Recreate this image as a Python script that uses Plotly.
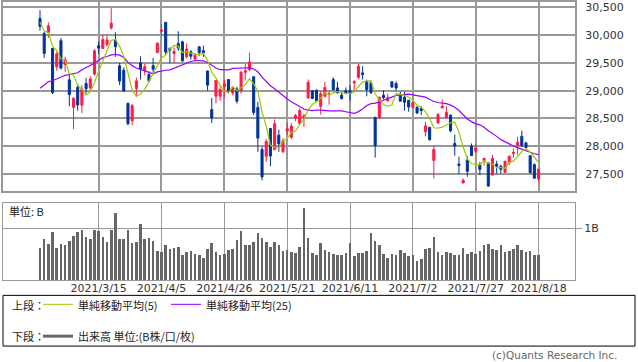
import numpy as np
import plotly.graph_objects as go

dates = [
    "2021/2/22", "2021/2/24", "2021/2/25", "2021/2/26",
    "2021/3/1", "2021/3/2", "2021/3/3", "2021/3/4", "2021/3/5",
    "2021/3/8", "2021/3/9", "2021/3/10", "2021/3/11", "2021/3/12",
    "2021/3/15", "2021/3/16", "2021/3/17", "2021/3/18", "2021/3/19",
    "2021/3/22", "2021/3/23", "2021/3/24", "2021/3/25", "2021/3/26",
    "2021/3/29", "2021/3/30", "2021/3/31", "2021/4/1", "2021/4/2",
    "2021/4/5", "2021/4/6", "2021/4/7", "2021/4/8", "2021/4/9",
    "2021/4/12", "2021/4/13", "2021/4/14", "2021/4/15", "2021/4/16",
    "2021/4/19", "2021/4/20", "2021/4/21", "2021/4/22", "2021/4/23",
    "2021/4/26", "2021/4/27", "2021/4/28", "2021/4/30",
    "2021/5/6", "2021/5/7",
    "2021/5/10", "2021/5/11", "2021/5/12", "2021/5/13", "2021/5/14",
    "2021/5/17", "2021/5/18", "2021/5/19", "2021/5/20", "2021/5/21",
    "2021/5/24", "2021/5/25", "2021/5/26", "2021/5/27", "2021/5/28",
    "2021/5/31", "2021/6/1", "2021/6/2", "2021/6/3", "2021/6/4",
    "2021/6/7", "2021/6/8", "2021/6/9", "2021/6/10", "2021/6/11",
    "2021/6/14", "2021/6/15", "2021/6/16", "2021/6/17", "2021/6/18",
    "2021/6/21", "2021/6/22", "2021/6/23", "2021/6/24", "2021/6/25",
    "2021/6/28", "2021/6/29", "2021/6/30", "2021/7/1", "2021/7/2",
    "2021/7/5", "2021/7/6", "2021/7/7", "2021/7/8", "2021/7/9",
    "2021/7/12", "2021/7/13", "2021/7/14", "2021/7/15", "2021/7/16",
    "2021/7/19", "2021/7/20", "2021/7/21",
    "2021/7/26", "2021/7/27", "2021/7/28", "2021/7/29", "2021/7/30",
    "2021/8/2", "2021/8/3", "2021/8/4", "2021/8/5", "2021/8/6",
    "2021/8/10", "2021/8/11", "2021/8/12", "2021/8/13",
    "2021/8/16", "2021/8/17", "2021/8/18",
]

opens = [
    30300, 30030, 30050, 29760, 29430, 29900, 29470, 29195, 28700, 29060,
    28740, 29130, 29050, 29300, 29810, 29760, 29830, 30130, 29914, 29450,
    29370, 28770, 28460, 29040, 29500, 29360, 29290, 29450, 29690, 30070,
    30230, 29760, 29670, 29850, 29880, 29610, 29700, 29570, 29790, 29720,
    29355, 28660, 28900, 28900, 29070, 29200, 28960, 29030, 29000, 29330,
    29380, 29250, 28700, 27940, 27820, 28320, 27940, 28200, 27900, 28270,
    28160, 28500, 28410, 28510, 28870, 29000, 29010, 28720, 28900, 28930,
    29200, 29050, 28920, 29000, 29000, 29140, 29240, 29320, 29170, 29140,
    28520, 28510, 28920, 28820, 29160, 29130, 28920, 28880, 28830, 28700,
    28700, 28680, 28260, 28340, 27745, 28420, 28690, 28520, 28560, 28050,
    27680, 27340, 27750, 28000, 27910, 27670, 27740, 27700, 27480, 27680,
    27640, 27530, 27700, 27870, 28020, 28180, 28060, 27830, 27670, 27410,
]
highs = [
    30450, 30060, 30230, 29770, 29700, 29950, 29610, 29300, 28880, 29120,
    29100, 29230, 29260, 29750, 29890, 30010, 30000, 30485, 30050, 29500,
    29420, 28790, 28760, 29240, 29620, 29490, 29350, 29590, 29870, 30200,
    30240, 29780, 29780, 30070, 29900, 29850, 29730, 29680, 29800, 29810,
    29360, 28870, 29190, 29070, 29190, 29210, 29070, 29070, 29360, 29480,
    29685, 29260, 28800, 27990, 28130, 28330, 28480, 28300, 28150, 28420,
    28420, 28580, 28680, 28590, 29200, 29010, 29020, 28990, 29160, 29000,
    29240, 29160, 28960, 29060, 29100, 29190, 29480, 29440, 29200, 29180,
    28530, 28890, 29010, 28950, 29170, 29170, 28980, 28980, 28830, 28800,
    28720, 28720, 28440, 28350, 28010, 28600, 28840, 28720, 28570, 28210,
    27810, 27420, 27820, 28050, 28050, 27720, 27790, 27710, 27840, 27740,
    27670, 27740, 27830, 27960, 28170, 28280, 28080, 27840, 27690, 27600,
]
lows = [
    30080, 29590, 29950, 28940, 29360, 29380, 29340, 28720, 28310, 28640,
    28600, 28950, 29020, 29270, 29670, 29750, 29800, 30100, 29610, 29100,
    28980, 28380, 28380, 28900, 29200, 29280, 29150, 29300, 29670, 29990,
    29650, 29500, 29490, 29720, 29520, 29580, 29560, 29540, 29620, 29610,
    29000, 28420, 28770, 28820, 28870, 28950, 28920, 28770, 28950, 29180,
    29350, 28560, 27900, 27385, 27720, 27640, 27930, 27900, 27880, 28200,
    28130, 28450, 28390, 28350, 28860, 28850, 28800, 28570, 28880, 28750,
    29000, 28950, 28840, 28950, 28820, 28990, 29210, 29200, 28900, 28940,
    27795, 28500, 28840, 28800, 29050, 29000, 28800, 28640, 28620, 28680,
    28580, 28560, 28180, 28100, 27420, 28400, 28680, 28490, 28250, 27830,
    27500, 27330, 27450, 27830, 27880, 27480, 27650, 27270, 27480, 27510,
    27510, 27530, 27660, 27790, 27850, 27990, 27960, 27510, 27420, 27350,
]
closes = [
    30156, 29671, 30168, 28966, 29663, 29408, 29559, 28930, 28864, 28743,
    29028, 29036, 29211, 29717, 29766, 29921, 29914, 30216, 29792, 29174,
    28995, 28405, 28729, 29176, 29384, 29432, 29178, 29388, 29854, 30089,
    29696, 29730, 29708, 29768, 29538, 29751, 29620, 29642, 29683, 29685,
    29100, 28508, 29188, 29020, 29126, 28991, 29053, 28812, 29331, 29357,
    29518, 28608, 28147, 27448, 28084, 27824, 28406, 28044, 28098, 28317,
    28364, 28553, 28642, 28549, 29149, 28860, 28814, 28946, 29058, 28941,
    29019, 28963, 28860, 28958, 28948, 29161, 29441, 29291, 29018, 28964,
    28010, 28884, 28874, 28875, 29066, 29048, 28812, 28791, 28707, 28783,
    28598, 28643, 28366, 28118, 27940, 28569, 28718, 28608, 28279, 28003,
    27652, 27388, 27548, 27833, 27970, 27581, 27782, 27283, 27781, 27641,
    27584, 27728, 27820, 27888, 28070, 28015, 27977, 27523, 27424, 27585,
]
# closes of the 24 sessions before the first shown day (for the moving averages)
prior_closes = [
    28242, 28633, 28523, 28756, 28631, 28822, 28546, 28635, 28197, 27663,
    28091, 28362, 28646, 28341, 28779, 29388, 29505, 29562, 29520, 30084,
    30467, 30292, 30236, 30017,
]
volumes_b = [
    0.63, 0.80, 0.70, 0.93, 0.63, 0.70, 0.68, 0.76, 0.85, 0.93,
    0.97, 0.84, 0.80, 0.97, 0.95, 0.84, 0.74, 0.97, 1.29, 0.80,
    0.80, 0.97, 0.72, 0.74, 1.08, 0.80, 0.82, 0.76, 0.57, 0.55,
    0.67, 0.61, 0.63, 0.65, 0.49, 0.55, 0.57, 0.51, 0.49, 0.44,
    0.61, 0.72, 0.55, 0.49, 0.51, 0.59, 0.61, 0.78, 0.95, 0.68,
    0.67, 0.74, 0.91, 0.82, 0.74, 0.65, 0.74, 0.68, 0.57, 0.59,
    0.55, 0.53, 0.65, 1.39, 0.82, 0.53, 0.48, 0.72, 0.59, 0.55,
    0.51, 0.49, 0.49, 0.53, 0.72, 0.46, 0.53, 0.53, 0.57, 0.91,
    0.76, 0.68, 0.51, 0.44, 0.51, 0.48, 0.59, 0.53, 0.46, 0.48,
    0.38, 0.42, 0.61, 0.63, 0.84, 0.55, 0.49, 0.55, 0.53, 0.49,
    0.49, 0.63, 0.51, 0.55, 0.51, 0.57, 0.68, 0.70, 0.61, 0.59,
    0.68, 0.55, 0.57, 0.61, 0.67, 0.59, 0.55, 0.57, 0.49, 0.49,
]
tick_dates = ["2021/3/15", "2021/4/5", "2021/4/26", "2021/5/21",
              "2021/6/11", "2021/7/2", "2021/7/27", "2021/8/18"]
price_ticks = [27500, 28000, 28500, 29000, 29500, 30000, 30500]

RED = "#ff1a48"
BLUE = "#003399"
GREEN = "#99cc00"
PURPLE = "#9900ff"
GRID = "#999999"

x = list(range(len(dates)))
tickvals = [dates.index(d) for d in tick_dates]

allc = np.array(prior_closes + closes, dtype=float)


def sma(a, n):
    return np.convolve(a, np.ones(n) / n, mode="valid")


ma5 = sma(allc, 5)[-len(closes):]
ma25 = sma(allc, 25)[-len(closes):]

W, H = 638, 362


def px(v):
    return v / W


def py(v):
    return 1 - v / H


fig = go.Figure()
fig.add_trace(go.Candlestick(
    x=x, open=opens, high=highs, low=lows, close=closes,
    increasing=dict(line=dict(color=RED, width=1), fillcolor=RED),
    decreasing=dict(line=dict(color=BLUE, width=1), fillcolor=BLUE),
    whiskerwidth=0, xaxis="x", yaxis="y", showlegend=False,
))
fig.add_trace(go.Scatter(x=x, y=ma25, mode="lines", line=dict(color=PURPLE, width=1.2),
                         xaxis="x", yaxis="y", showlegend=False))
fig.add_trace(go.Scatter(x=x, y=ma5, mode="lines", line=dict(color=GREEN, width=1.2),
                         xaxis="x", yaxis="y", showlegend=False))
fig.add_trace(go.Bar(x=x, y=volumes_b, marker=dict(color="#666666", line=dict(width=0)),
                     width=0.62, xaxis="x2", yaxis="y2", showlegend=False))

xrange = [-8.83, 127.7]
font_main = "DejaVu Sans, Noto Sans CJK JP, sans-serif"

fig.update_layout(
    width=W, height=H,
    margin=dict(l=0, r=0, t=0, b=0),
    paper_bgcolor="white", plot_bgcolor="white",
    font=dict(family=font_main, size=11, color="#333333"),
    xaxis=dict(domain=[px(3), px(575)], range=xrange, anchor="y",
               tickvals=tickvals, showticklabels=False, ticks="",
               showgrid=True, gridcolor=GRID, gridwidth=2, zeroline=False,
               showline=True, mirror=True, linecolor=GRID, linewidth=2,
               rangeslider=dict(visible=False), fixedrange=True),
    yaxis=dict(domain=[py(190), 1], range=[27195, 30597], side="right",
               tickvals=price_ticks, ticktext=[f"{v:,}" for v in price_ticks],
               ticks="", ticklabelstandoff=6,
               showgrid=True, gridcolor=GRID, gridwidth=2, zeroline=False,
               showline=True, mirror=True, linecolor=GRID, linewidth=2,
               tickfont=dict(size=11, color="#333333")),
    xaxis2=dict(domain=[px(3), px(575)], range=xrange, anchor="y2",
                tickvals=tickvals, ticktext=tick_dates, ticks="",
                ticklabelstandoff=-3,
                showgrid=True, gridcolor=GRID, gridwidth=1, zeroline=False,
                showline=True, mirror=True, linecolor=GRID, linewidth=1,
                tickfont=dict(size=11, color="#333333"), tickangle=0),
    yaxis2=dict(domain=[py(280), py(202)], range=[0, 1.48], side="right",
                tickvals=[1], ticktext=["1B"], ticks="outside", ticklen=6,
                tickcolor=GRID, tickwidth=1,
                showgrid=True, gridcolor=GRID, gridwidth=1, zeroline=False,
                showline=True, mirror=True, linecolor=GRID, linewidth=1,
                tickfont=dict(size=11, color="#333333")),
    bargap=0,
)

shapes = [
    dict(type="rect", xref="paper", yref="paper", x0=px(3), x1=px(635),
         y0=py(346), y1=py(295), line=dict(color="black", width=1)),
    dict(type="line", xref="paper", yref="paper", x0=px(43), x1=px(73),
         y0=py(304), y1=py(304), line=dict(color=GREEN, width=1)),
    dict(type="line", xref="paper", yref="paper", x0=px(171), x1=px(201),
         y0=py(304), y1=py(304), line=dict(color=PURPLE, width=1)),
    dict(type="line", xref="paper", yref="paper", x0=px(43), x1=px(73),
         y0=py(336), y1=py(336), line=dict(color="#666666", width=3)),
]
fig.update_layout(shapes=shapes)

jp = "Noto Sans CJK JP, DejaVu Sans, sans-serif"


def note(text, x0, y0, anchor="left", size=11, color="#222222", family=jp):
    fig.add_annotation(text=text, xref="paper", yref="paper", x=px(x0), y=py(y0),
                       xanchor=anchor, yanchor="middle", showarrow=False,
                       borderpad=0, font=dict(family=family, size=size, color=color))


note("単位: B", 8, 210)
note("上段：", 11, 305)
note("単純移動平均(5)", 77, 305)
note("単純移動平均(25)", 205, 305)
note("下段：", 11, 336)
note("出来高 単位:(B株/口/枚)", 77, 336)
note("(c)Quants Research Inc.", 618, 355, anchor="right", size=10.5, color="#666666",
     family=font_main)

fig.write_html("out.html", config={"displayModeBar": False},
               post_script="document.body.style.margin='0';document.body.style.overflow='hidden';")
